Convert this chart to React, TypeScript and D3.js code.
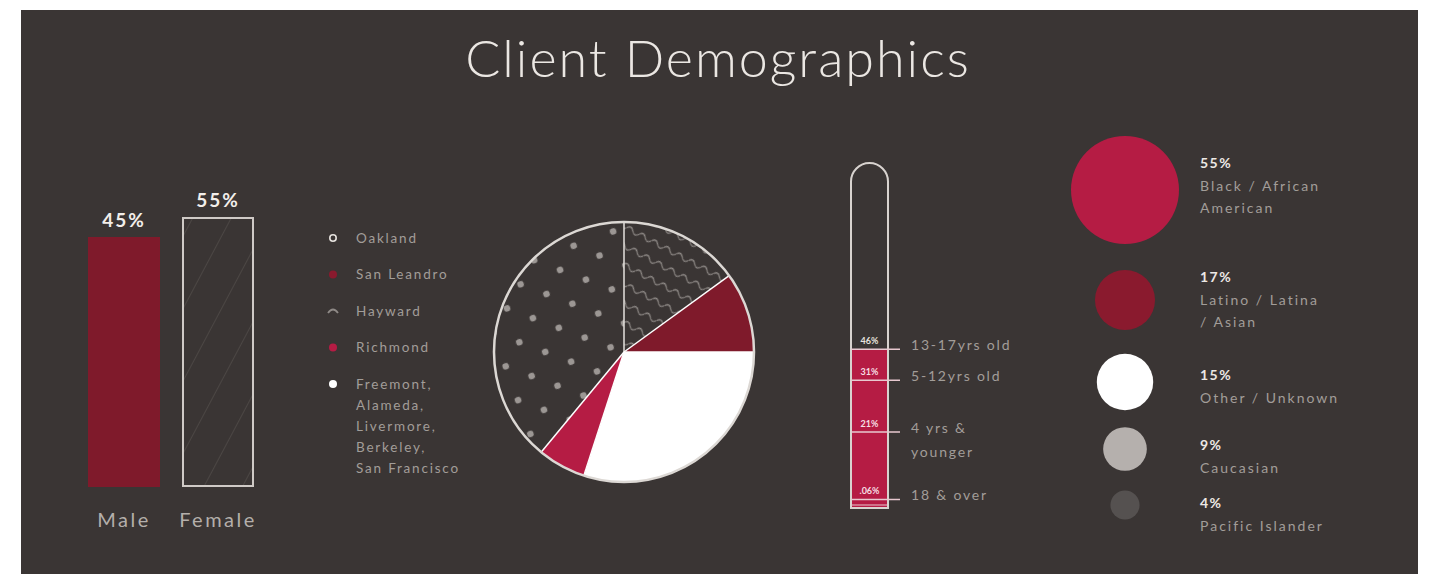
import * as d3 from "d3";

// gender bars
const genders = ["Male", "Female"];
const genderValues = [45, 55];
const genderLabels = ["45%", "55%"];

// city pie (clockwise from top)
const cities = ["Hayward", "San Leandro", "Freemont", "Richmond", "Oakland"];
const cityValues = [15, 10, 30, 6, 39];
const legendOrder = ["Oakland", "San Leandro", "Hayward", "Richmond", "Freemont"];
const legendLabels = [
  ["Oakland"],
  ["San Leandro"],
  ["Hayward"],
  ["Richmond"],
  ["Freemont,", "Alameda,", "Livermore,", "Berkeley,", "San Francisco"],
];

// age thermometer
const ageLevels = [46, 37, 22, 2.5];
const agePct = ["46%", "31%", "21%", ".06%"];
const ageLabels = [["13-17yrs old"], ["5-12yrs old"], ["4 yrs &", "younger"], ["18 & over"]];

// ethnicity bubbles
const ethnicValues = [55, 17, 15, 9, 4];
const ethnicPct = ["55%", "17%", "15%", "9%", "4%"];
const ethnicLabels = [
  ["Black / African", "American"],
  ["Latino / Latina", "/ Asian"],
  ["Other / Unknown"],
  ["Caucasian"],
  ["Pacific Islander"],
];

const BG = "#3a3534";
const CRIMSON = "#b51c44";
const DARKRED = "#7f1a2b";
const TXT = "#a29d99";
const FONT = "Lato, 'Open Sans', sans-serif";

export default function App() {
  const W = 1433;
  const H = 574;

  // bars
  const barX = d3.scaleBand().domain(genders).range([88, 254]).paddingInner(22 / 94).paddingOuter(0);
  const barY = d3.scaleLinear().domain([-80, 55]).range([487, 217]);

  // pie
  const cx = 624, cy = 352, R = 130;
  const pie = d3.pie<number>().sort(null).value((d) => d);
  const arcs = pie(cityValues);
  const arc = d3.arc<d3.PieArcDatum<number>>().innerRadius(0).outerRadius(R);
  const fills: Record<string, string> = {
    Hayward: "url(#waves)",
    "San Leandro": DARKRED,
    Freemont: "#ffffff",
    Richmond: CRIMSON,
    Oakland: "url(#dots)",
  };

  // thermometer
  const tx0 = 851, tx1 = 888, tTop = 163, tBot = 508, tr = (tx1 - tx0) / 2;
  const ty = d3.scaleLinear().domain([0, 100]).range([tBot, tTop]);
  const tube = `M${tx0},${tBot} L${tx0},${tTop + tr} A${tr},${tr} 0 0 1 ${tx1},${tTop + tr} L${tx1},${tBot} Z`;

  // bubbles
  const rScale = d3.scaleSqrt().domain([0, 55]).range([0, 54]);
  const bubbleCy = [190, 300, 382, 449, 505];
  const bubbleColors = [CRIMSON, "#8a1a2e", "#ffffff", "#b5b0ad", "#555150"];
  const textTop = [163, 277, 375, 445, 503];

  return (
    <svg width={W} height={H} style={{ position: "absolute", left: 0, top: 0 }} fontFamily={FONT}>
      <defs>
        <pattern id="hatch" width="34" height="34" patternUnits="userSpaceOnUse" patternTransform="rotate(28)">
          <line x1="0" y1="0" x2="0" y2="34" stroke="#57514f" strokeWidth="1.2" />
        </pattern>
        <pattern id="waves" width="14" height="17" patternUnits="userSpaceOnUse" patternTransform="rotate(28)">
          <rect width="14" height="17" fill={BG} />
          <path d="M0,8 Q3.5,3 7,8 T14,8" fill="none" stroke="#8f8a87" strokeWidth="1.3" />
        </pattern>
        <pattern id="dots" width="42" height="36" patternUnits="userSpaceOnUse" patternTransform="rotate(-20)">
          <rect width="42" height="36" fill={BG} />
          <circle cx="10" cy="9" r="3.3" fill="#9c9794" />
          <circle cx="31" cy="27" r="3.3" fill="#9c9794" />
        </pattern>
      </defs>
      <rect width={W} height={H} fill="#ffffff" />
      <rect x={21} y={10} width={1397} height={H - 10} fill={BG} />

      <text x={718} y={77} textAnchor="middle" fontSize={52} fontWeight={300} fill="#ebe7e3" letterSpacing={2}>
        Client Demographics
      </text>

      {/* gender bars */}
      {genders.map((g, i) => {
        const x = barX(g)!;
        const y = barY(genderValues[i]);
        const h = barY(-80) - y;
        return (
          <g key={g}>
            {i === 0 ? (
              <rect x={x} y={y} width={barX.bandwidth()} height={h} fill={DARKRED} />
            ) : (
              <>
                <rect x={x} y={y} width={barX.bandwidth()} height={h} fill="url(#hatch)" />
                <rect x={x + 1} y={y + 1} width={barX.bandwidth() - 2} height={h - 2} fill="none" stroke="#cfcac6" strokeWidth={2} />
              </>
            )}
            <text x={x + barX.bandwidth() / 2} y={y - 10} textAnchor="middle" fontSize={19} fontWeight={700} fill="#f2eeea" letterSpacing={2}>
              {genderLabels[i]}
            </text>
            <text x={x + barX.bandwidth() / 2} y={527} textAnchor="middle" fontSize={20} fill="#b4afab" letterSpacing={2.5}>
              {g}
            </text>
          </g>
        );
      })}

      {/* legend */}
      {legendOrder.map((c, i) => {
        const y0 = 238 + i * 36.5;
        let marker;
        if (c === "Oakland") marker = <circle cx={333} cy={y0} r={3.2} fill="none" stroke="#e6e2de" strokeWidth={1.6} />;
        else if (c === "San Leandro") marker = <circle cx={333} cy={y0} r={4} fill="#8a1a2e" />;
        else if (c === "Hayward") marker = <path d={`M${328},${y0 + 2} Q${333},${y0 - 5} ${338},${y0 + 2}`} fill="none" stroke="#8f8a87" strokeWidth={1.8} />;
        else if (c === "Richmond") marker = <circle cx={333} cy={y0} r={4} fill={CRIMSON} />;
        else marker = <circle cx={333} cy={y0} r={4} fill="#ffffff" />;
        return (
          <g key={c}>
            {marker}
            {legendLabels[i].map((l, j) => (
              <text key={j} x={356} y={y0 + 4.5 + j * 21} fontSize={13.5} fill={TXT} letterSpacing={1.8}>
                {l}
              </text>
            ))}
          </g>
        );
      })}

      {/* pie */}
      <g transform={`translate(${cx},${cy})`}>
        {arcs.map((a, i) => (
          <path key={cities[i]} d={arc(a)!} fill={fills[cities[i]]} />
        ))}
        {arcs.map((a, i) => {
          const ang = a.startAngle;
          return (
            <line
              key={`s${i}`}
              x1={0}
              y1={0}
              x2={Math.sin(ang) * R}
              y2={-Math.cos(ang) * R}
              stroke={i === 0 ? "#e6e2de" : "#ffffff"}
              strokeWidth={1.5}
            />
          );
        })}
        <circle r={R} fill="none" stroke="#dcd8d4" strokeWidth={2.5} />
      </g>

      {/* thermometer */}
      <rect x={tx0} y={ty(ageLevels[0])} width={tx1 - tx0} height={tBot - ty(ageLevels[0])} fill={CRIMSON} />
      <path d={tube} fill="none" stroke="#d8d3cf" strokeWidth={2} />
      {ageLevels.map((v, i) => (
        <g key={i}>
          <line x1={tx0} x2={900} y1={ty(v)} y2={ty(v)} stroke="#e8c8cf" strokeWidth={1.5} />
          <text x={(tx0 + tx1) / 2} y={ty(v) - 5} textAnchor="middle" fontSize={9} fontWeight={700} fill={i === 0 ? "#e6e2de" : "#f5dde2"}>
            {agePct[i]}
          </text>
          {ageLabels[i].map((l, j) => (
            <text key={j} x={911} y={ty(v) + 1 + j * 24} fontSize={14} fill={TXT} letterSpacing={1.8}>
              {l}
            </text>
          ))}
        </g>
      ))}
      <line x1={tx0} x2={tx1} y1={tBot - 3} y2={tBot - 3} stroke="#e8c8cf" strokeWidth={1} />

      {/* bubbles */}
      {ethnicValues.map((v, i) => (
        <g key={i}>
          <circle cx={1125} cy={bubbleCy[i]} r={rScale(v)} fill={bubbleColors[i]} />
          <text x={1200} y={textTop[i] + 5} fontSize={14} fontWeight={700} fill="#ece8e4" letterSpacing={1.5}>
            {ethnicPct[i]}
          </text>
          {ethnicLabels[i].map((l, j) => (
            <text key={j} x={1200} y={textTop[i] + 28 + j * 22} fontSize={14} fill={TXT} letterSpacing={2}>
              {l}
            </text>
          ))}
        </g>
      ))}
    </svg>
  );
}
